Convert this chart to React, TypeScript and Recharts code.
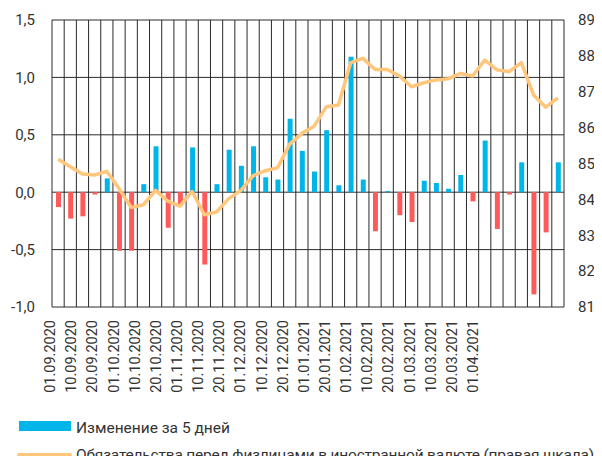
import { ComposedChart, Bar, Line, Cell, XAxis, YAxis, CartesianGrid } from "recharts";

// x-axis labels (the source shows one about every 1.7 columns)
const dateLabels = [
  "01.09.2020", "10.09.2020", "20.09.2020", "01.10.2020", "10.10.2020", "20.10.2020",
  "01.11.2020", "10.11.2020", "20.11.2020", "01.12.2020", "10.12.2020", "20.12.2020",
  "01.01.2021", "20.01.2021", "01.02.2021", "10.02.2021", "20.02.2021", "01.03.2021",
  "10.03.2021", "20.03.2021", "01.04.2021",
];

// 5-day change, bln USD (left axis)
const change5d = [
  -0.13, -0.23, -0.21, -0.02, 0.12, -0.51, -0.51, 0.07, 0.4, -0.31,
  -0.12, 0.39, -0.63, 0.07, 0.37, 0.23, 0.4, 0.13, 0.11, 0.64,
  0.36, 0.18, 0.54, 0.06, 1.18, 0.11, -0.34, 0.01, -0.2, -0.26,
  0.1, 0.08, 0.03, 0.15, -0.08, 0.45, -0.32, -0.02, 0.26, -0.89,
  -0.35, 0.26,
];

// liabilities to individuals in FX (right axis)
const liabilities = [
  85.12, 84.91, 84.71, 84.68, 84.78, 84.3, 83.77, 83.85, 84.25, 83.95,
  83.81, 84.22, 83.57, 83.65, 84.02, 84.25, 84.66, 84.8, 84.88, 85.54,
  85.84, 86.04, 86.58, 86.63, 87.81, 87.93, 87.62, 87.62, 87.44, 87.14,
  87.25, 87.33, 87.36, 87.51, 87.44, 87.88, 87.61, 87.56, 87.81, 86.91,
  86.57, 86.83,
];

const leftTicks = [-1, -0.5, 0, 0.5, 1, 1.5];
const rightTicks = [81, 82, 83, 84, 85, 86, 87, 88, 89];

const LABEL_STEP = 1.735; // columns between two date labels

const data = change5d.map((v, i) => ({ idx: i, change: v, liab: liabilities[i] }));
const labelTicks = dateLabels.map((_, i) => -0.5 + i * LABEL_STEP);

const BLUE = "#00B5E8";
const RED = "#FF5A5A";
const ORANGE = "#FFC67C";
const TEXT = "#333333";
const FONT = "Roboto, sans-serif";

const fmt = (v: number) => v.toFixed(1).replace(".", ",");

const DateTick = ({ x, y, index }: any) => (
  <g transform={`translate(${x - 2},${y + 13})`}>
    <text transform="rotate(-90)" textAnchor="end" dy="0.35em" fill={TEXT} fontSize={14.5} fontFamily={FONT}>
      {dateLabels[index]}
    </text>
  </g>
);

export default function App() {
  return (
    <div style={{ position: "relative", width: 602, height: 464, margin: -8, background: "#fff", fontFamily: FONT }}>
      <ComposedChart width={602} height={410} data={data} margin={{ top: 20, right: 0, bottom: 0, left: 0 }}>
        <CartesianGrid
          yAxisId="l"
          stroke="#2a2a2a"
          strokeWidth={1}
          verticalCoordinatesGenerator={({ offset }: any) =>
            Array.from({ length: data.length + 1 }, (_, i) => offset.left + (i * offset.width) / data.length)
          }
        />
        <XAxis
          dataKey="idx"
          type="number"
          domain={[-0.5, data.length - 0.5]}
          ticks={labelTicks}
          height={103}
          axisLine={false}
          tickLine={false}
          tickSize={0}
          tickMargin={0}
          interval={0}
          tick={<DateTick />}
        />
        <YAxis
          yAxisId="l"
          domain={[-1, 1.5]}
          ticks={leftTicks}
          width={52}
          axisLine={false}
          tickLine={false}
          tickSize={0}
          tickMargin={17}
          tickFormatter={fmt}
          tick={{ fill: TEXT, fontSize: 15, fontFamily: FONT }}
        />
        <YAxis
          yAxisId="r"
          orientation="right"
          domain={[81, 89]}
          ticks={rightTicks}
          width={38}
          axisLine={false}
          tickLine={false}
          tickSize={0}
          tickMargin={14}
          tick={{ fill: TEXT, fontSize: 15, fontFamily: FONT }}
        />
        <Bar yAxisId="l" dataKey="change" barSize={5} isAnimationActive={false}>
          {data.map((d, i) => (
            <Cell key={`c-${i}`} fill={d.change >= 0 ? BLUE : RED} />
          ))}
        </Bar>
        <Line
          yAxisId="r"
          dataKey="liab"
          type="linear"
          stroke={ORANGE}
          strokeWidth={3.5}
          strokeLinejoin="round"
          dot={false}
          isAnimationActive={false}
        />
      </ComposedChart>
      <div style={{ position: "absolute", left: 19, top: 421, width: 52, height: 10, background: BLUE }} />
      <div style={{ position: "absolute", left: 76, top: 418, fontSize: 15.5, lineHeight: "20px", color: TEXT, whiteSpace: "nowrap" }}>
        Изменение за 5 дней
      </div>
      <div style={{ position: "absolute", left: 17, top: 453, width: 55, height: 4, borderRadius: 2, background: ORANGE }} />
      <div
        style={{
          position: "absolute",
          left: 76,
          top: 445,
          fontSize: 15.5,
          letterSpacing: -0.2,
          lineHeight: "20px",
          color: TEXT,
          whiteSpace: "nowrap",
        }}
      >
        Обязательства перед физлицами в иностранной валюте (правая шкала)
      </div>
    </div>
  );
}
